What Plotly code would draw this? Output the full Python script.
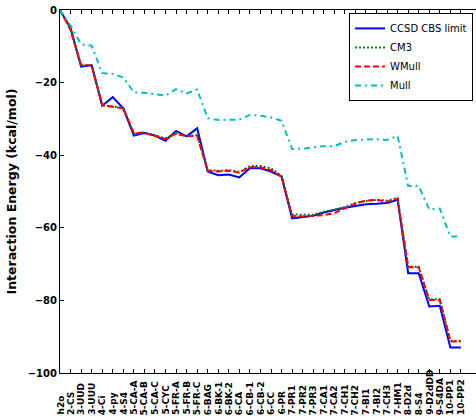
import plotly.graph_objects as go

categories = ["h2o", "2-CS", "3-UUD", "3-UUU", "4-Ci", "4-py", "4-S4", "5-CA-A", "5-CA-B", "5-CA-C",
              "5-CYC", "5-FR-A", "5-FR-B", "5-FR-C", "6-BAG", "6-BK-1", "6-BK-2", "6-CA", "6-CB-1", "6-CB-2",
              "6-CC", "6-PR", "7-PR1", "7-PR2", "7-PR3", "7-CA1", "7-CA2", "7-CH1", "7-CH2", "7-BI1",
              "7-BI2", "7-CH3", "7-HM1", "8-D2d", "8-S4", "9-D2dDD", "9-S4DA", "10-PP1", "10-PP2"]

ccsd = [0.0, -5.0, -15.6, -15.2, -26.4, -24.0, -27.1, -34.6, -33.9, -34.6,
        -36.0, -33.3, -34.8, -32.6, -44.5, -45.5, -45.3, -46.1, -43.6, -43.6,
        -44.5, -45.9, -57.4, -57.1, -56.7, -55.8, -55.1, -54.5, -54.0, -53.5,
        -53.4, -53.2, -52.3, -72.5, -72.5, -81.7, -81.5, -93.0, -93.0]

cm3 = [0.0, -5.0, -15.2, -15.2, -26.2, -26.5, -27.0, -34.0, -33.7, -34.5,
       -35.4, -34.0, -34.7, -34.5, -44.1, -44.3, -44.1, -44.6, -43.0, -43.0,
       -43.6, -45.7, -56.3, -56.4, -56.4, -55.6, -55.0, -54.3, -53.2, -52.6,
       -52.3, -52.5, -51.8, -70.7, -70.7, -79.7, -79.7, -91.1, -91.2]

wmull = [0.0, -5.5, -15.2, -15.2, -26.2, -26.7, -27.1, -34.0, -33.8, -34.7,
         -35.5, -34.0, -34.8, -34.7, -44.3, -44.5, -44.3, -44.8, -43.3, -43.3,
         -44.1, -45.9, -56.7, -56.9, -56.7, -56.5, -56.0, -54.7, -53.3, -52.5,
         -52.3, -52.8, -52.0, -70.9, -70.9, -79.9, -79.9, -91.3, -91.3]

mull = [0.0, -4.3, -9.5, -9.8, -17.4, -17.6, -18.6, -22.7, -22.8, -23.2,
        -23.6, -21.8, -23.0, -21.9, -29.8, -30.3, -30.2, -30.2, -28.9, -29.1,
        -29.6, -30.5, -38.3, -38.2, -37.8, -37.5, -37.5, -36.3, -35.8, -35.6,
        -35.6, -35.8, -34.7, -48.5, -48.5, -54.9, -54.7, -62.4, -62.4]

y_ticks = [0, -20, -40, -60, -80, -100]

x = list(range(len(categories)))

fig = go.Figure()
series = [
    ("CCSD CBS limit", ccsd, "#0000ff", "solid"),
    ("CM3", cm3, "#008000", "2px,2px"),
    ("WMull", wmull, "#ff0000", "6px,3px"),
    ("Mull", mull, "#00bfbf", "6px,4px,2px,4px"),
]
for name, vals, color, dash in series:
    fig.add_trace(go.Scatter(x=x, y=vals, mode="lines", name=name,
                             line=dict(color=color, width=2, dash=dash)))

for i, c in enumerate(categories):
    fig.add_annotation(x=i, xref="x", y=0, yref="paper", yshift=-44,
                       text=c, textangle=-90, showarrow=False,
                       xanchor="center", yanchor="bottom",
                       font=dict(family="DejaVu Sans", size=9, color="black", weight="bold"))

fig.update_layout(
    width=476, height=418,
    margin=dict(l=60, r=0, t=10, b=45, autoexpand=False),
    paper_bgcolor="white", plot_bgcolor="white",
    font=dict(family="DejaVu Sans", color="black"),
    showlegend=True,
    legend=dict(x=0.993, y=0.992, xanchor="right", yanchor="top",
                bgcolor="white", bordercolor="black", borderwidth=1,
                font=dict(family="DejaVu Sans", size=10, color="black"),
                tracegroupgap=0),
    xaxis=dict(range=[0, 39.43], tickvals=x, showticklabels=False,
               ticks="inside", ticklen=4, tickcolor="black", automargin=False,
               showline=True, linecolor="black", linewidth=1, mirror="allticks",
               showgrid=False, zeroline=False),
    yaxis=dict(range=[-100, 0], tickvals=y_ticks, ticks="inside", ticklen=4,
               tickcolor="black", showline=True, linecolor="black", linewidth=1,
               mirror=False, showgrid=False, zeroline=False, automargin=False,
               ticklabeloverflow="allow",
               tickfont=dict(family="DejaVu Sans", size=10, color="black", weight="bold"),
               title=dict(text="Interaction Energy (kcal/mol)", standoff=8,
                          font=dict(family="DejaVu Sans", size=12.5, color="black", weight="bold"))),
)

# remove the browser's default 8px body margin so the figure fills the window
fig.write_html("out.html", config={"displayModeBar": False},
               post_script="document.body.style.margin='0px';")
